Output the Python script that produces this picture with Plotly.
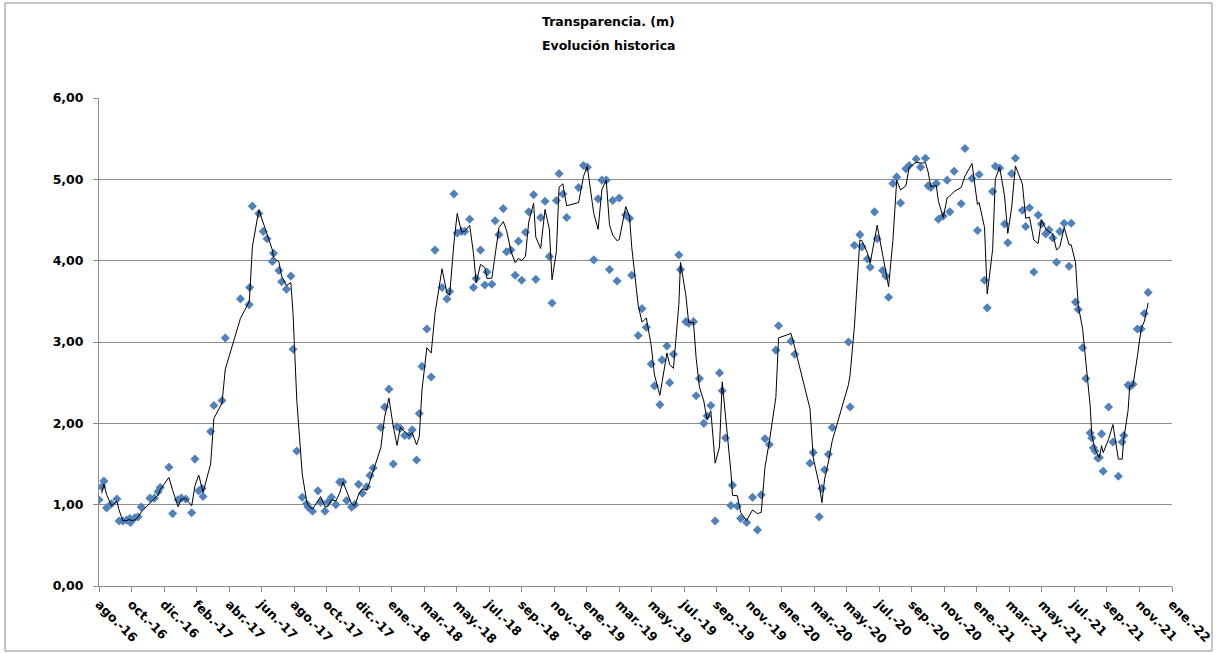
import pandas as pd
import plotly.graph_objects as go

# Sampling dates as Excel serial day numbers
fecha_serial = [
    42590, 42595, 42599, 42604, 42613, 42623, 42627, 42634, 42641, 42647,
    42648, 42656, 42662, 42668, 42684, 42692, 42699, 42703, 42719, 42726,
    42736, 42742, 42750, 42761, 42767, 42774, 42780, 42782, 42796, 42802,
    42817, 42823, 42851, 42867, 42868, 42873, 42885, 42893, 42900, 42910,
    42912, 42922, 42927, 42936, 42944, 42948, 42955, 42965, 42973, 42976,
    42984, 42994, 42999, 43007, 43012, 43019, 43027, 43034, 43040, 43047,
    43056, 43062, 43069, 43076, 43084, 43090, 43096, 43110, 43117, 43125,
    43133, 43140, 43146, 43154, 43162, 43168, 43176, 43181, 43186, 43195,
    43203, 43210, 43223, 43232, 43237, 43245, 43251, 43259, 43265, 43274,
    43281, 43286, 43294, 43302, 43306, 43315, 43321, 43328, 43336, 43342,
    43350, 43358, 43364, 43370, 43377, 43383, 43392, 43396, 43405, 43413,
    43421, 43426, 43434, 43439, 43446, 43453, 43475, 43484, 43491, 43503,
    43511, 43518, 43526, 43532, 43538, 43546, 43550, 43562, 43569, 43573,
    43585, 43592, 43600, 43609, 43615, 43625, 43629, 43638, 43643, 43650,
    43660, 43663, 43673, 43678, 43687, 43692, 43698, 43706, 43712, 43719,
    43727, 43735, 43740, 43746, 43756, 43759, 43768, 43774, 43785, 43796,
    43805, 43812, 43819, 43827, 43839, 43844, 43867, 43874, 43902, 43908,
    43919, 43924, 43929, 43936, 43943, 43973, 43976, 43984, 43994, 43998,
    44008, 44013, 44021, 44026, 44036, 44042, 44047, 44055, 44062, 44069,
    44079, 44085, 44098, 44106, 44115, 44120, 44125, 44135, 44139, 44148,
    44155, 44160, 44168, 44181, 44188, 44201, 44211, 44214, 44224, 44229,
    44239, 44244, 44252, 44261, 44267, 44274, 44281, 44294, 44300, 44307,
    44315, 44323, 44329, 44337, 44343, 44350, 44357, 44363, 44371, 44380,
    44384, 44392, 44397, 44405, 44411, 44419, 44422, 44425, 44428, 44433,
    44436, 44440, 44443, 44453, 44461, 44471, 44478, 44481, 44489, 44492,
    44498, 44506, 44513, 44519, 44526,
]

# Transparency (m)
transparencia = [
    1.06, 1.22, 1.29, 0.96, 1.01, 1.07, 0.80, 0.80, 0.81, 0.83,
    0.78, 0.84, 0.85, 0.97, 1.08, 1.08, 1.16, 1.21, 1.46, 0.89,
    1.06, 1.08, 1.07, 0.90, 1.56, 1.17, 1.20, 1.10, 1.90, 2.22,
    2.28, 3.05, 3.53, 3.46, 3.67, 4.67, 4.58, 4.36, 4.27, 3.99,
    4.09, 3.88, 3.74, 3.65, 3.81, 2.91, 1.66, 1.09, 1.01, 0.97,
    0.92, 1.17, 1.03, 0.92, 1.03, 1.09, 1.00, 1.28, 1.28, 1.05,
    0.97, 1.00, 1.25, 1.14, 1.22, 1.36, 1.45, 1.95, 2.20, 2.42,
    1.50, 1.96, 1.94, 1.85, 1.85, 1.92, 1.55, 2.12, 2.70, 3.16,
    2.57, 4.13, 3.67, 3.53, 3.62, 4.82, 4.34, 4.36, 4.36, 4.51,
    3.67, 3.78, 4.13, 3.70, 3.86, 3.71, 4.49, 4.32, 4.64, 4.11,
    4.13, 3.82, 4.24, 3.76, 4.35, 4.60, 4.81, 3.77, 4.53, 4.73,
    4.05, 3.48, 4.74, 5.07, 4.82, 4.53, 4.90, 5.17, 5.15, 4.01,
    4.76, 4.99, 4.99, 3.89, 4.74, 3.75, 4.77, 4.56, 4.52, 3.82,
    3.08, 3.41, 3.18, 2.73, 2.46, 2.23, 2.78, 2.95, 2.50, 2.85,
    4.07, 3.89, 3.25, 3.23, 3.25, 2.34, 2.55, 2.00, 2.09, 2.22,
    0.80, 2.62, 2.40, 1.82, 0.99, 1.24, 0.98, 0.83, 0.78, 1.09,
    0.69, 1.12, 1.81, 1.74, 2.90, 3.20, 3.01, 2.85, 1.51, 1.64,
    0.85, 1.20, 1.43, 1.62, 1.95, 3.00, 2.20, 4.19, 4.32, 4.17,
    4.02, 3.92, 4.60, 4.27, 3.88, 3.81, 3.55, 4.95, 5.03, 4.71,
    5.13, 5.17, 5.25, 5.15, 5.26, 4.92, 4.90, 4.95, 4.51, 4.55,
    4.99, 4.60, 5.10, 4.70, 5.38, 5.01, 4.37, 5.06, 3.76, 3.42,
    4.85, 5.16, 5.14, 4.45, 4.22, 5.07, 5.26, 4.62, 4.42, 4.65,
    3.86, 4.56, 4.45, 4.33, 4.38, 4.28, 3.98, 4.36, 4.46, 3.93,
    4.46, 3.49, 3.40, 2.93, 2.55, 1.88, 1.82, 1.70, 1.66, 1.57,
    1.58, 1.87, 1.41, 2.20, 1.77, 1.35, 1.77, 1.85, 2.47, 2.45,
    2.48, 3.16, 3.16, 3.35, 3.61,
]

# X axis ticks (Excel date axis, major unit 60 days)
tick_serial = [42590 + 60 * k for k in range(34)]
tick_labels = [
    "ago.-16", "oct.-16", "dic.-16", "feb.-17", "abr.-17", "jun.-17",
    "ago.-17", "oct.-17", "dic.-17", "ene.-18", "mar.-18", "may.-18",
    "jul.-18", "sep.-18", "nov.-18", "ene.-19", "mar.-19", "may.-19",
    "jul.-19", "sep.-19", "nov.-19", "ene.-20", "mar.-20", "may.-20",
    "jul.-20", "sep.-20", "nov.-20", "ene.-21", "mar.-21", "may.-21",
    "jul.-21", "sep.-21", "nov.-21", "ene.-22",
]

titulo = ["Transparencia. (m)", "Evolución historica"]

def to_date(s):
    return pd.to_datetime(pd.Series(s), unit="D", origin="1899-12-30")

fechas = to_date(fecha_serial)
ticks = to_date(tick_serial)

# Excel trendline: moving average, period 2
media_movil = pd.Series(transparencia).rolling(2).mean()

FONT = "DejaVu Sans"
W, H = 1216, 653
L, R, T, B = 99, 44, 98, 67
PW, PH = W - L - R, H - T - B

def px(x):
    return (x - L) / PW

def py(y):
    return (H - B - y) / PH

fig = go.Figure()
fig.add_trace(go.Scatter(
    x=fechas, y=transparencia, mode="markers",
    marker=dict(symbol="diamond", size=7, color="#4F81BD",
                line=dict(width=0)),
    name="Transparencia", showlegend=False,
))
fig.add_trace(go.Scatter(
    x=fechas, y=media_movil, mode="lines",
    line=dict(color="black", width=1),
    name="Media móvil (2 per.)", showlegend=False,
))

fig.update_layout(
    width=W, height=H,
    paper_bgcolor="white", plot_bgcolor="white",
    margin=dict(l=L, r=R, t=T, b=B, autoexpand=False),
    separators=",.",
    font=dict(family=FONT, color="black"),
    annotations=[
        dict(text=f"<b>{titulo[0]}</b>", xref="paper", yref="paper",
             x=px(608), y=py(22), xanchor="center", yanchor="middle",
             showarrow=False, font=dict(family=FONT, size=12.5, color="black")),
        dict(text=f"<b>{titulo[1]}</b>", xref="paper", yref="paper",
             x=px(608), y=py(45), xanchor="center", yanchor="middle",
             showarrow=False, font=dict(family=FONT, size=12.5, color="black")),
    ],
    shapes=[dict(type="rect", xref="paper", yref="paper",
                 x0=px(5), x1=px(1212), y0=py(651), y1=py(3),
                 line=dict(color="#8C8C8C", width=1),
                 fillcolor="rgba(0,0,0,0)", layer="below")],
)

fig.update_xaxes(
    type="date",
    range=[ticks.iloc[0], ticks.iloc[-1]],
    tickmode="array", tickvals=ticks, ticktext=tick_labels,
    tickangle=45,
    tickfont=dict(family=FONT, size=12.5, color="black", weight="bold"),
    showgrid=False, zeroline=False,
    showline=True, linecolor="#8C8C8C", linewidth=1,
    ticks="outside", ticklen=5, tickcolor="#8C8C8C",
)
fig.update_yaxes(
    range=[0, 6], tickmode="linear", tick0=0, dtick=1, tickformat=".2f",
    tickfont=dict(family=FONT, size=12.5, color="black", weight="bold"),
    showgrid=True, gridcolor="#8C8C8C", gridwidth=1,
    zeroline=False,
    showline=True, linecolor="#8C8C8C", linewidth=1,
    ticks="outside", ticklen=5, tickcolor="#8C8C8C",
    ticklabelstandoff=7,
)

fig.write_html(
    "out.html",
    config={"displayModeBar": False},
    post_script="document.body.style.margin='0';document.body.style.overflow='hidden';",
)
